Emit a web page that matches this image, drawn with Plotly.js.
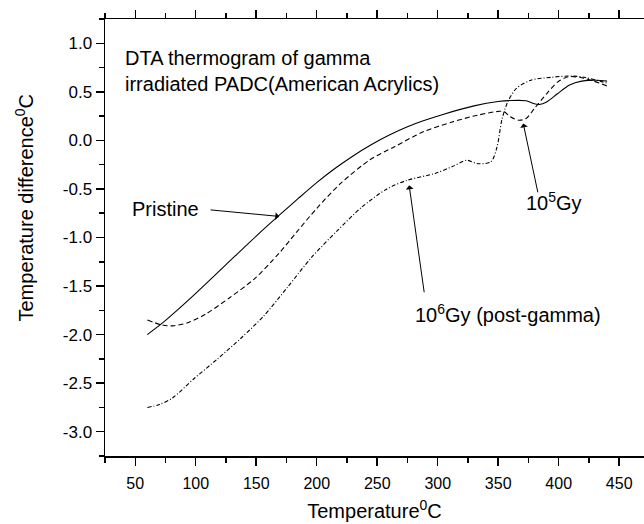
<!DOCTYPE html>
<html>
<head>
<meta charset="utf-8">
<script src="https://cdn.plot.ly/plotly-3.0.1.min.js"></script>
<style>
html,body{margin:0;padding:0;overflow:hidden;background:#fff;}
#chart{width:644px;height:524px;}
</style>
</head>
<body>
<div id="chart"></div>
<script>
// Pristine (solid)
const tempPristine = [60, 72, 85, 100, 125, 150, 170, 185, 200, 215, 230, 245, 260, 275, 290, 305, 330, 350, 360, 373, 379, 384, 390, 399, 409, 419, 431, 440];
const diffPristine = [-2.00, -1.885, -1.745, -1.575, -1.28, -0.985, -0.76, -0.595, -0.435, -0.29, -0.16, -0.045, 0.055, 0.14, 0.21, 0.27, 0.355, 0.40, 0.41, 0.408, 0.38, 0.37, 0.395, 0.48, 0.57, 0.61, 0.62, 0.61];

// 10^5 Gy (dashed)
const temp1e5 = [60, 72, 81, 94, 108, 128, 149, 169, 183, 200, 220, 244, 264, 288, 312, 333, 351, 355, 360, 367, 373, 380, 390, 399, 408, 421, 440];
const diff1e5 = [-1.85, -1.90, -1.91, -1.875, -1.79, -1.62, -1.42, -1.16, -0.95, -0.70, -0.44, -0.20, -0.067, 0.088, 0.19, 0.26, 0.30, 0.295, 0.243, 0.208, 0.225, 0.33, 0.48, 0.60, 0.656, 0.64, 0.56];

// 10^6 Gy post-gamma (dash-dot)
const temp1e6 = [60, 70, 81, 98, 118, 138, 156, 176, 196, 217, 237, 258, 275, 298, 312, 324, 333, 344, 349, 353, 358, 365, 377, 394, 411, 421, 440];
const diff1e6 = [-2.75, -2.72, -2.65, -2.46, -2.25, -2.03, -1.81, -1.51, -1.20, -0.93, -0.69, -0.50, -0.41, -0.34, -0.27, -0.205, -0.24, -0.22, -0.07, 0.21, 0.40, 0.535, 0.62, 0.65, 0.663, 0.65, 0.59];

// Axis ticks
const xTickVals = [50, 100, 150, 200, 250, 300, 350, 400, 450];
const xTickText = ["50", "100", "150", "200", "250", "300", "350", "400", "450"];
const yTickVals = [-3.0, -2.5, -2.0, -1.5, -1.0, -0.5, 0.0, 0.5, 1.0];
const yTickText = ["-3.0", "-2.5", "-2.0", "-1.5", "-1.0", "-0.5", "0.0", "0.5", "1.0"];

const FONT = "Liberation Sans, Arial, sans-serif";

const lineBase = {color: "#000", width: 1.1, shape: "spline", smoothing: 0.8};

const traces = [
  {x: tempPristine, y: diffPristine, mode: "lines", name: "Pristine",
   line: Object.assign({}, lineBase, {dash: "solid"})},
  {x: temp1e5, y: diff1e5, mode: "lines", name: "10^5 Gy",
   line: Object.assign({}, lineBase, {dash: "5px,3px"})},
  {x: temp1e6, y: diff1e6, mode: "lines", name: "10^6 Gy",
   line: Object.assign({}, lineBase, {dash: "4px,2px,1px,2px"})}
];

function arrow(x, y, ax, ay) {
  return {x: x, y: y, ax: ax, ay: ay, xref: "x", yref: "y", axref: "x", ayref: "y",
          text: "", showarrow: true, arrowhead: 1, arrowsize: 1.3, arrowwidth: 1, arrowcolor: "#000",
          standoff: 0, startstandoff: 0};
}

const annFont = {family: FONT, size: 20, color: "#000"};

const layout = {
  width: 644, height: 524,
  margin: {l: 105, r: 0, t: 19, b: 68},
  paper_bgcolor: "#fff", plot_bgcolor: "#fff",
  showlegend: false,
  font: {family: FONT, color: "#000"},
  xaxis: {
    range: [25, 470.5],
    showgrid: false, zeroline: false,
    showline: true, linecolor: "#000", linewidth: 1.5, mirror: "ticks",
    ticks: "outside", ticklen: 8, tickwidth: 1.5, tickcolor: "#000",
    tickvals: xTickVals, ticktext: xTickText,
    tickfont: {family: FONT, size: 16, color: "#000"},
    ticklabelstandoff: 4,
    minor: {dtick: 25, tick0: 0, ticks: "outside", ticklen: 5, tickwidth: 1.5, tickcolor: "#000", showgrid: false},
    title: {text: "Temperature<sup>0</sup>C", font: {family: FONT, size: 20, color: "#000"}, standoff: 13},
    automargin: false
  },
  yaxis: {
    range: [-3.25, 1.25],
    showgrid: false, zeroline: false,
    showline: true, linecolor: "#000", linewidth: 1.5, mirror: false,
    ticks: "outside", ticklen: 8, tickwidth: 1.5, tickcolor: "#000",
    tickvals: yTickVals, ticktext: yTickText,
    tickfont: {family: FONT, size: 17, color: "#000"},
    minor: {dtick: 0.25, tick0: 0, ticks: "outside", ticklen: 5, tickwidth: 1.5, tickcolor: "#000", showgrid: false},
    automargin: false
  },
  annotations: [
    {xref: "paper", yref: "paper", x: -0.1512, y: 0.5675, xanchor: "center", yanchor: "middle",
     text: "Temperature difference<sup>0</sup>C", textangle: -90, showarrow: false,
     font: {family: FONT, size: 20, color: "#000"}},
    {xref: "x", yref: "y", x: 39.8, y: 0.716, xanchor: "left", yanchor: "middle", align: "left",
     text: "DTA thermogram of gamma<br>irradiated PADC(American Acrylics)", showarrow: false, font: annFont},
    {xref: "x", yref: "y", axref: "x", ayref: "y",
     x: 169, y: -0.783, ax: 104, ay: -0.706, xanchor: "right", yanchor: "middle",
     text: "Pristine", showarrow: true, arrowhead: 1, arrowsize: 1.3, arrowwidth: 1, arrowcolor: "#000",
     standoff: 0, startstandoff: 10, font: annFont},
    {xref: "x", yref: "y", x: 396, y: -0.63, xanchor: "center", yanchor: "middle",
     text: "10<sup>5</sup>Gy", showarrow: false, font: annFont},
    {xref: "x", yref: "y", x: 357.7, y: -1.78, xanchor: "center", yanchor: "middle",
     text: "10<sup>6</sup>Gy (post-gamma)", showarrow: false, font: annFont},
    arrow(370.7, 0.174, 383, -0.55),
    arrow(276.4, -0.463, 289, -1.58)
  ]
};

Plotly.newPlot("chart", traces, layout, {staticPlot: true, displayModeBar: false});
</script>
</body>
</html>
